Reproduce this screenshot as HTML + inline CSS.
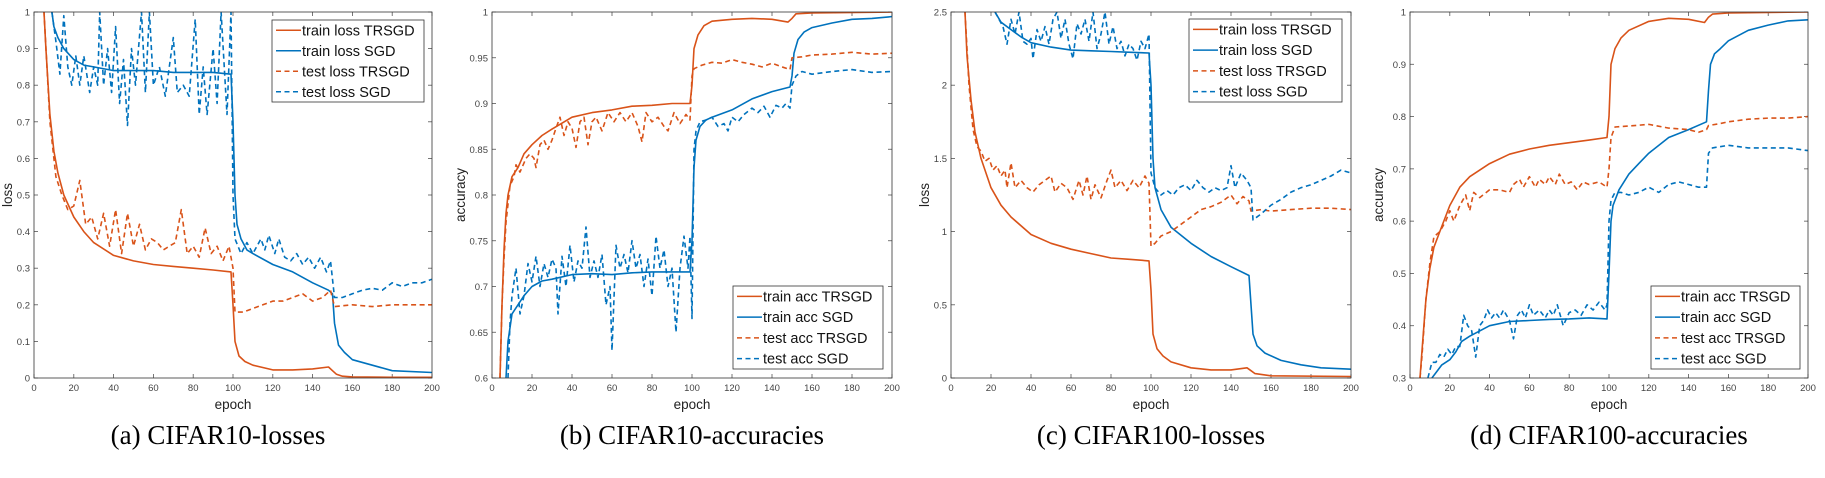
<!DOCTYPE html>
<html><head><meta charset="utf-8"><style>
body{margin:0;background:#fff;width:1825px;height:478px;overflow:hidden;position:relative;font-family:"Liberation Sans",sans-serif}
.cap{position:absolute;top:420px;font-family:"Liberation Serif",serif;font-size:27px;color:#000;white-space:nowrap;transform:translateX(-50%)}
</style></head><body>
<svg id="chart" width="1825" height="478" style="position:absolute;left:0;top:0"></svg>
<div class="cap" style="left:218px">(a) CIFAR10-losses</div>
<div class="cap" style="left:692px">(b) CIFAR10-accuracies</div>
<div class="cap" style="left:1151px">(c) CIFAR100-losses</div>
<div class="cap" style="left:1609px">(d) CIFAR100-accuracies</div>
<script>
// ---- Panel A data ----
const aTrainT_x=[5,6,8,10,12,15,20,25,30,40,50,60,70,80,90,99,100,101,103,106,110,120,130,140,148,150,152,155,160,180,200];
const aTrainT_y=[1,0.9,0.72,0.62,0.56,0.5,0.44,0.4,0.37,0.335,0.32,0.31,0.305,0.3,0.295,0.29,0.2,0.1,0.06,0.045,0.035,0.022,0.022,0.025,0.03,0.02,0.01,0.005,0.003,0.002,0.002];
const aTrainS_x=[9,10,12,15,20,25,30,40,50,60,70,80,90,99,100,101,102,104,107,110,120,130,140,148,150,151,153,156,160,170,180,200];
const aTrainS_y=[1,0.96,0.93,0.9,0.87,0.855,0.85,0.84,0.84,0.84,0.835,0.835,0.835,0.83,0.7,0.5,0.42,0.38,0.35,0.34,0.31,0.29,0.26,0.24,0.23,0.15,0.09,0.07,0.05,0.035,0.02,0.015];
const aTestT_x=[5,8,11,14,17,20,23,26,29,32,35,38,41,44,47,50,53,56,59,62,65,68,71,74,77,80,83,86,89,92,95,98,100,101,105,110,115,120,125,130,135,140,145,149,151,160,170,180,190,200];
const aTestT_y=[1,0.7,0.55,0.5,0.46,0.47,0.54,0.42,0.44,0.38,0.45,0.36,0.46,0.34,0.45,0.36,0.42,0.35,0.38,0.37,0.35,0.36,0.37,0.46,0.34,0.36,0.33,0.41,0.34,0.36,0.32,0.36,0.3,0.18,0.18,0.19,0.2,0.21,0.21,0.22,0.23,0.21,0.22,0.24,0.195,0.2,0.195,0.2,0.2,0.2];
const aTestS_x=[9,11,13,15,17,19,21,23,25,28,30,32,33,35,37,39,41,43,45,47,49,51,54,56,58,60,63,66,70,72,75,78,81,83,85,87,90,92,94,97,99,100,101,104,107,110,114,116,118,121,123,126,129,132,135,138,141,144,147,149,151,155,160,165,170,175,180,185,190,195,200];
const aTestS_y=[1,0.92,0.83,0.99,0.85,0.8,0.88,0.8,0.88,0.78,0.85,0.8,1,0.8,0.9,0.78,0.96,0.75,0.87,0.69,0.9,0.8,1,0.78,1,0.8,0.85,0.77,0.93,0.78,0.8,0.77,0.98,0.72,0.85,0.72,0.9,0.75,1,0.72,1,0.5,0.38,0.34,0.37,0.34,0.38,0.35,0.39,0.34,0.38,0.33,0.32,0.34,0.31,0.33,0.3,0.33,0.29,0.32,0.22,0.22,0.23,0.24,0.245,0.24,0.26,0.25,0.26,0.26,0.27];
// ---- Panel B data ----
const bTrainT_x=[4,5,6,7,8,10,13,16,20,25,30,40,50,60,70,80,90,99,100,101,103,106,110,120,130,140,148,150,152,160,200];
const bTrainT_y=[0.6,0.68,0.74,0.78,0.8,0.82,0.83,0.845,0.855,0.865,0.872,0.885,0.89,0.893,0.897,0.898,0.9,0.9,0.92,0.96,0.975,0.985,0.99,0.992,0.993,0.992,0.989,0.993,0.998,0.999,1];
const bTestT_x=[4,5,6,7,9,11,12,14,17,19,21,22,24,26,28,30,32,34,36,38,40,42,44,46,48,50,52,55,58,61,64,67,70,73,75,77,80,83,86,88,91,94,97,99,100,101,105,110,115,120,125,130,135,140,145,149,150,155,160,170,180,190,200];
const bTestT_y=[0.6,0.68,0.73,0.77,0.81,0.82,0.833,0.825,0.84,0.845,0.84,0.83,0.855,0.86,0.85,0.86,0.873,0.885,0.865,0.88,0.873,0.852,0.88,0.885,0.855,0.88,0.885,0.87,0.89,0.88,0.89,0.88,0.89,0.875,0.858,0.89,0.88,0.885,0.875,0.87,0.89,0.878,0.888,0.882,0.93,0.938,0.942,0.945,0.944,0.948,0.945,0.943,0.94,0.944,0.94,0.937,0.95,0.951,0.953,0.954,0.956,0.954,0.955];
const bTrainS_x=[7,8,10,13,16,20,25,30,40,50,60,70,80,90,99,100,101,102,104,107,110,120,130,140,149,150,151,153,156,160,170,180,190,200];
const bTrainS_y=[0.6,0.64,0.67,0.68,0.69,0.7,0.706,0.708,0.713,0.714,0.713,0.715,0.716,0.716,0.716,0.75,0.83,0.86,0.875,0.882,0.885,0.893,0.905,0.913,0.918,0.93,0.955,0.97,0.978,0.983,0.988,0.992,0.993,0.995];
const bTestS_x=[8,9,10,12,14,16,18,20,22,24,26,28,30,32,33,35,37,39,41,43,45,47,49,51,53,55,57,59,60,62,64,66,68,70,72,74,76,78,80,82,84,86,88,90,92,94,96,98,99,100,101,102,104,107,110,113,116,118,120,123,126,130,133,136,139,142,145,147,149,150,152,155,160,170,180,190,200];
const bTestS_y=[0.6,0.66,0.69,0.72,0.67,0.69,0.725,0.705,0.733,0.7,0.725,0.71,0.73,0.72,0.67,0.733,0.7,0.745,0.705,0.728,0.72,0.765,0.71,0.728,0.71,0.735,0.68,0.7,0.63,0.745,0.72,0.735,0.715,0.75,0.72,0.735,0.7,0.73,0.69,0.755,0.72,0.74,0.7,0.72,0.65,0.72,0.755,0.72,0.755,0.665,0.85,0.87,0.88,0.882,0.885,0.875,0.878,0.87,0.885,0.88,0.888,0.895,0.89,0.897,0.885,0.898,0.895,0.9,0.895,0.92,0.93,0.935,0.932,0.935,0.937,0.934,0.935];
// ---- Panel C data ----
const cTrainT_x=[7,8,10,12,15,20,25,30,40,50,60,70,80,90,99,100,101,103,106,110,120,130,140,148,150,152,160,200];
const cTrainT_y=[2.5,2.2,1.9,1.68,1.5,1.3,1.18,1.1,0.98,0.92,0.88,0.85,0.82,0.81,0.8,0.6,0.3,0.2,0.15,0.11,0.07,0.055,0.055,0.07,0.05,0.03,0.015,0.01];
const cTestT_x=[7,9,11,13,15,17,19,21,23,25,27,28,30,32,35,38,41,44,47,50,52,55,58,61,64,66,68,70,72,75,78,80,82,85,88,91,94,97,99,100,102,105,110,115,120,125,130,135,140,143,146,149,150,155,160,170,180,190,200];
const cTestT_y=[2.5,2.0,1.7,1.58,1.55,1.48,1.5,1.42,1.45,1.38,1.42,1.3,1.47,1.3,1.35,1.3,1.27,1.32,1.35,1.38,1.27,1.33,1.3,1.22,1.35,1.25,1.38,1.22,1.32,1.23,1.35,1.42,1.3,1.35,1.28,1.35,1.3,1.38,1.33,0.9,0.92,0.97,1.0,1.05,1.1,1.15,1.17,1.2,1.25,1.19,1.24,1.21,1.14,1.15,1.14,1.15,1.16,1.16,1.15];
const cTrainS_x=[22,25,30,35,40,50,60,70,80,90,99,100,101,102,105,110,120,130,140,149,150,151,153,157,165,175,185,200];
const cTrainS_y=[2.5,2.43,2.38,2.33,2.29,2.26,2.24,2.235,2.23,2.225,2.22,2.0,1.5,1.3,1.15,1.03,0.92,0.83,0.76,0.7,0.5,0.3,0.22,0.17,0.12,0.09,0.07,0.06];
const cTestS_x=[22,24,26,28,30,32,34,36,38,40,41,43,45,47,49,51,53,55,57,59,61,63,65,67,69,71,73,75,77,79,81,83,85,87,89,91,93,95,97,99,100,102,105,108,111,114,117,120,123,126,129,132,135,138,140,142,145,148,150,151,155,160,165,170,175,180,185,190,195,200];
const cTestS_y=[2.5,2.45,2.4,2.28,2.45,2.35,2.5,2.3,2.28,2.32,2.18,2.38,2.3,2.4,2.28,2.45,2.5,2.32,2.45,2.28,2.18,2.42,2.35,2.45,2.3,2.5,2.25,2.35,2.5,2.28,2.4,2.25,2.3,2.2,2.28,2.25,2.17,2.3,2.25,2.35,1.4,1.3,1.25,1.28,1.25,1.3,1.32,1.28,1.35,1.3,1.27,1.3,1.28,1.3,1.45,1.3,1.4,1.35,1.3,1.08,1.12,1.18,1.22,1.27,1.3,1.32,1.35,1.38,1.42,1.4];
// ---- Panel D data ----
const dTrainT_x=[5,6,8,10,12,15,20,25,30,40,50,60,70,80,90,99,100,101,103,106,110,120,130,140,148,150,152,160,200];
const dTrainT_y=[0.3,0.35,0.45,0.51,0.55,0.58,0.63,0.665,0.685,0.71,0.728,0.738,0.745,0.75,0.755,0.76,0.8,0.9,0.93,0.95,0.965,0.982,0.988,0.986,0.98,0.99,0.996,0.998,1.0];
const dTestT_x=[5,6,8,10,12,15,18,20,22,25,28,30,32,35,40,45,50,52,55,57,60,63,65,68,70,73,75,78,81,84,87,90,95,99,100,101,103,110,120,130,140,145,149,150,155,160,170,180,190,200];
const dTestT_y=[0.3,0.34,0.45,0.52,0.57,0.58,0.6,0.62,0.6,0.63,0.65,0.62,0.655,0.645,0.66,0.66,0.655,0.67,0.68,0.665,0.685,0.665,0.68,0.67,0.685,0.67,0.69,0.67,0.675,0.66,0.675,0.67,0.675,0.665,0.7,0.76,0.78,0.782,0.785,0.778,0.775,0.77,0.775,0.783,0.786,0.79,0.795,0.797,0.797,0.8];
const dTrainS_x=[11,13,16,20,23,26,30,35,40,50,60,70,80,90,99,100,101,102,105,110,115,120,130,140,149,150,151,153,156,160,170,180,190,200];
const dTrainS_y=[0.3,0.31,0.325,0.335,0.35,0.37,0.38,0.39,0.4,0.408,0.41,0.412,0.413,0.415,0.413,0.5,0.6,0.63,0.66,0.69,0.71,0.73,0.76,0.775,0.79,0.85,0.9,0.92,0.93,0.945,0.965,0.975,0.983,0.985];
const dTestS_x=[9,11,13,15,17,19,21,23,25,27,29,31,33,35,37,39,41,43,45,47,50,52,54,56,58,60,62,65,68,70,72,74,77,80,83,86,89,92,95,98,99,100,101,103,106,110,115,120,125,130,135,140,145,149,150,152,160,170,180,190,200];
const dTestS_y=[0.3,0.33,0.33,0.345,0.34,0.355,0.345,0.36,0.36,0.42,0.4,0.39,0.34,0.4,0.41,0.43,0.415,0.425,0.415,0.43,0.41,0.375,0.42,0.43,0.415,0.44,0.42,0.43,0.415,0.43,0.42,0.44,0.4,0.425,0.43,0.42,0.44,0.43,0.445,0.43,0.44,0.6,0.64,0.655,0.655,0.65,0.655,0.665,0.655,0.67,0.675,0.67,0.665,0.665,0.73,0.74,0.745,0.74,0.74,0.74,0.735];
// ---- tick labels ----
const xTicks=[0,20,40,60,80,100,120,140,160,180,200];
const aYTicks=[0,0.1,0.2,0.3,0.4,0.5,0.6,0.7,0.8,0.9,1];
const bYTicks=[0.6,0.65,0.7,0.75,0.8,0.85,0.9,0.95,1];
const cYTicks=[0,0.5,1,1.5,2,2.5];
const dYTicks=[0.3,0.4,0.5,0.6,0.7,0.8,0.9,1];
const lossNames=["train loss TRSGD","train loss SGD","test loss TRSGD","test loss SGD"];
const accNames=["train acc TRSGD","train acc SGD","test acc TRSGD","test acc SGD"];

const NS="http://www.w3.org/2000/svg";
const svg=document.getElementById('chart');
const OR="#D95319",BL="#0072BD";
function mk(tag,attrs,parent){const e=document.createElementNS(NS,tag);for(const k in attrs)e.setAttribute(k,attrs[k]);(parent||svg).appendChild(e);return e;}

function panel(id,L,R,T,B,ymin,ymax,yTicks,ylabel,series,names,leg){
  const g=mk('g',{});
  
  
  const sx=v=>L+(v-0)/(200-0)*(R-L);
  const sy=v=>B-(v-ymin)/(ymax-ymin)*(B-T);
  mk('rect',{x:L,y:T,width:R-L,height:B-T,fill:'#fff'},g);
  const cp=mk('clipPath',{id:'clip'+id},g);
  mk('rect',{x:L,y:T,width:R-L,height:B-T},cp);
  // ticks
  xTicks.forEach(t=>{
    const x=sx(t);
    mk('line',{x1:x,y1:B,x2:x,y2:B-4,stroke:'#555','stroke-width':0.8},g);
    mk('line',{x1:x,y1:T,x2:x,y2:T+4,stroke:'#555','stroke-width':0.8},g);
    const tx=mk('text',{x:x,y:B+13,'font-size':9.5,fill:'#444','text-anchor':'middle'},g);
    tx.textContent=t;
    
    
  });
  yTicks.forEach(t=>{
    const y=sy(t);
    mk('line',{x1:L,y1:y,x2:L+4,y2:y,stroke:'#555','stroke-width':0.8},g);
    mk('line',{x1:R,y1:y,x2:R-4,y2:y,stroke:'#555','stroke-width':0.8},g);
    const tx=mk('text',{x:L-4,y:y+3.5,'font-size':9.5,fill:'#444','text-anchor':'end'},g);
    tx.textContent=t;
    
    
  });
  const xl=mk('text',{x:(L+R)/2,y:B+31,'font-size':13.5,fill:'#222','text-anchor':'middle'},g);
  xl.textContent='epoch';
  
  
  const lx=L-(ylabel==='loss'?22:27);
  const yl=mk('text',{x:lx,y:(T+B)/2,'font-size':13.5,fill:'#222','text-anchor':'middle',transform:`rotate(-90 ${lx} ${(T+B)/2})`},g);
  yl.textContent=ylabel;
  
  
  const lg=mk('g',{'clip-path':`url(#clip${id})`},g);
  series.forEach((s,i)=>{
    const d=s.x.map((xv,j)=>(j?'L':'M')+sx(xv).toFixed(1)+','+sy(s.y[j]).toFixed(1)).join('');
    const p=mk('path',{d:d,fill:'none',stroke:s.c,'stroke-width':1.6,'stroke-linejoin':'round'},lg);
    if(s.dash)p.setAttribute('stroke-dasharray','5 3.5');
    
    
  });
  mk('rect',{x:L,y:T,width:R-L,height:B-T,fill:'none',stroke:'#333','stroke-width':0.8},g);
  // legend
  const lgd=mk('g',{},g);
  
  
  mk('rect',{x:leg[0],y:leg[1],width:leg[2]-leg[0],height:leg[3]-leg[1],fill:'#fff',stroke:'#333','stroke-width':0.8},lgd);
  const rh=(leg[3]-leg[1])/4;
  series.forEach((s,i)=>{
    const y=leg[1]+rh*(i+0.5);
    const ln=mk('line',{x1:leg[0]+4,y1:y,x2:leg[0]+29,y2:y,stroke:s.c,'stroke-width':1.6},lgd);
    if(s.dash)ln.setAttribute('stroke-dasharray','5 3.5');
    const tx=mk('text',{x:leg[0]+30,y:y+5,'font-size':14.5,fill:'#111'},lgd);
    tx.textContent=names[i];
    
    
  });
}

panel('a',34,432,12,378,0,1,aYTicks,'loss',[
  {x:aTrainT_x,y:aTrainT_y,c:OR},{x:aTrainS_x,y:aTrainS_y,c:BL},
  {x:aTestT_x,y:aTestT_y,c:OR,dash:1},{x:aTestS_x,y:aTestS_y,c:BL,dash:1}],lossNames,[272,20,424,102]);
panel('b',492,892,12,378,0.6,1,bYTicks,'accuracy',[
  {x:bTrainT_x,y:bTrainT_y,c:OR},{x:bTrainS_x,y:bTrainS_y,c:BL},
  {x:bTestT_x,y:bTestT_y,c:OR,dash:1},{x:bTestS_x,y:bTestS_y,c:BL,dash:1}],accNames,[733,286,883,369]);
panel('c',951,1351,12,378,0,2.5,cYTicks,'loss',[
  {x:cTrainT_x,y:cTrainT_y,c:OR},{x:cTrainS_x,y:cTrainS_y,c:BL},
  {x:cTestT_x,y:cTestT_y,c:OR,dash:1},{x:cTestS_x,y:cTestS_y,c:BL,dash:1}],lossNames,[1189,19,1342,102]);
panel('d',1410,1808,12,378,0.3,1,dYTicks,'accuracy',[
  {x:dTrainT_x,y:dTrainT_y,c:OR},{x:dTrainS_x,y:dTrainS_y,c:BL},
  {x:dTestT_x,y:dTestT_y,c:OR,dash:1},{x:dTestS_x,y:dTestS_y,c:BL,dash:1}],accNames,[1651,286,1800,369]);
</script>
</body></html>
